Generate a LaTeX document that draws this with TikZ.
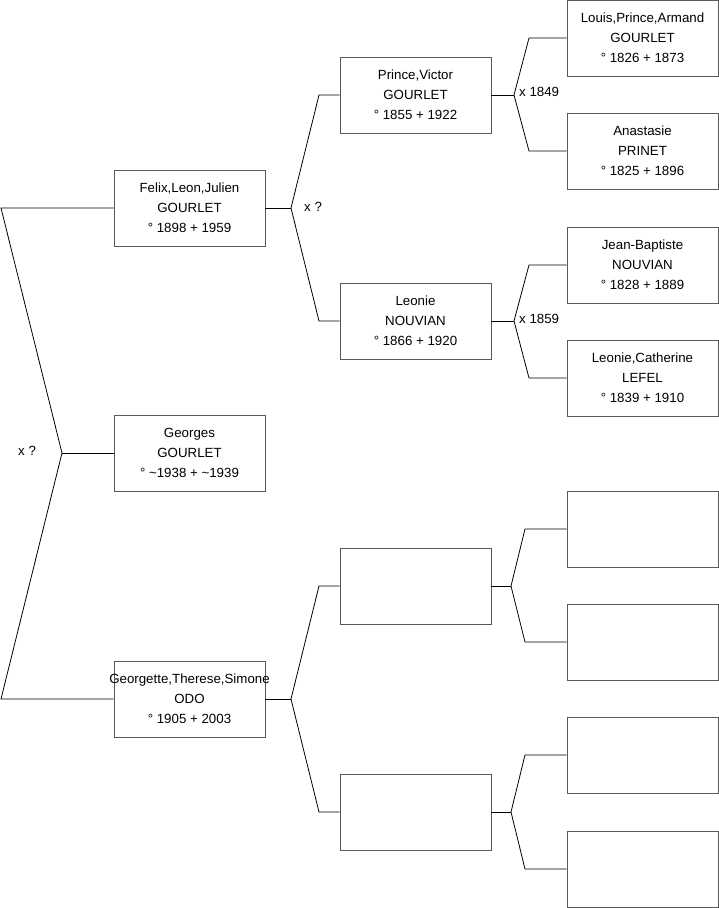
\documentclass[tikz,border=0pt]{standalone}
\usepackage{fontspec}
\setmainfont{Liberation Sans}
\begin{document}
\begin{tikzpicture}[x=1pt,y=-1pt,
  person/.style={draw=black!65,line width=0.9pt,minimum width=151pt,minimum height=76pt,inner sep=0pt},
  txt/.style={inner sep=0pt,align=center,font=\fontsize{13.3}{20}\selectfont},
  link/.style={draw=black,line width=0.8pt},
  lbl/.style={font=\fontsize{13.3}{15}\selectfont,inner sep=0pt,anchor=west}]
\useasboundingbox[fill=white] (0,0) rectangle (719,908);
% generation 1
\node[person,label={[txt]center:{Felix,Leon,Julien\\GOURLET\\° 1898 + 1959}}] (felix) at (189.5,208) {};
\node[person,label={[txt]center:{Georges\\GOURLET\\° \textasciitilde1938 + \textasciitilde1939}}] (georges) at (189.5,453) {};
\node[person,label={[txt]center:{Georgette,Therese,Simone\\ODO\\° 1905 + 2003}}] (georgette) at (189.5,699) {};
% generation 2
\node[person,label={[txt]center:{Prince,Victor\\GOURLET\\° 1855 + 1922}}] (victor) at (415.5,95) {};
\node[person,label={[txt]center:{Leonie\\NOUVIAN\\° 1866 + 1920}}] (leonie) at (415.5,321) {};
\node[person] (e2a) at (415.5,586) {};
\node[person] (e2b) at (415.5,812) {};
% generation 3
\node[person,label={[txt]center:{Louis,Prince,Armand\\GOURLET\\° 1826 + 1873}}] (louis) at (642.5,38) {};
\node[person,label={[txt]center:{Anastasie\\PRINET\\° 1825 + 1896}}] (anast) at (642.5,151) {};
\node[person,label={[txt]center:{Jean-Baptiste\\NOUVIAN\\° 1828 + 1889}}] (jb) at (642.5,265) {};
\node[person,label={[txt]center:{Leonie,Catherine\\LEFEL\\° 1839 + 1910}}] (lcath) at (642.5,378) {};
\node[person] (e3a) at (642.5,529) {};
\node[person] (e3b) at (642.5,642) {};
\node[person] (e3c) at (642.5,755) {};
\node[person] (e3d) at (642.5,869) {};
% left bracket
\coordinate (lt) at (1,208);
\coordinate (lm) at (62,453);
\coordinate (lb) at (1,699);
\draw[link] (felix.west) -- (lt) -- (lm) -- (lb) -- (georgette.west);
\draw[link] (lm) -- (georges.west);
\node[lbl] (xa) at (18,451) {x ?};
% felix parents
\coordinate (j1) at (291,208);
\draw[link] (felix.east) -- (j1);
\draw[link] (j1) -- (319,95) -- (victor.west);
\draw[link] (j1) -- (319,321) -- (leonie.west);
\node[lbl] (xb) at (304,207) {x ?};
% georgette parents
\coordinate (j2) at (291,699);
\draw[link] (georgette.east) -- (j2);
\draw[link] (j2) -- (319,586) -- (e2a.west);
\draw[link] (j2) -- (319,812) -- (e2b.west);
% victor parents
\coordinate (j3) at (514,95);
\draw[link] (victor.east) -- (j3);
\draw[link] (j3) -- (529,38) -- (louis.west);
\draw[link] (j3) -- (529,151) -- (anast.west);
\node[lbl] (xc) at (519,92) {x 1849};
% leonie parents
\coordinate (j4) at (514,321);
\draw[link] (leonie.east) -- (j4);
\draw[link] (j4) -- (529,265) -- (jb.west);
\draw[link] (j4) -- (529,378) -- (lcath.west);
\node[lbl] (xd) at (519,319) {x 1859};
% empty parents
\coordinate (j5) at (511,586);
\draw[link] (e2a.east) -- (j5);
\draw[link] (j5) -- (525,529) -- (e3a.west);
\draw[link] (j5) -- (525,642) -- (e3b.west);
\coordinate (j6) at (511,812);
\draw[link] (e2b.east) -- (j6);
\draw[link] (j6) -- (525,755) -- (e3c.west);
\draw[link] (j6) -- (525,869) -- (e3d.west);
\end{tikzpicture}
\end{document}
